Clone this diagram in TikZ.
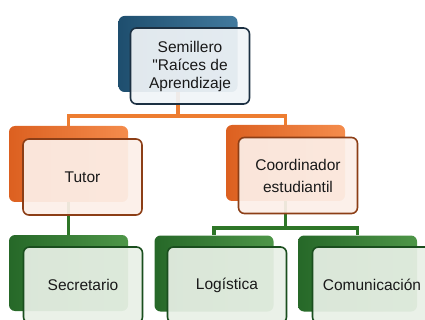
\documentclass[tikz,border=0pt]{standalone}
\usepackage{fontspec}
\setmainfont{Liberation Sans}[Ligatures=TeXOff]
\usetikzlibrary{positioning,calc}
\definecolor{blueback}{RGB}{30,78,110}
\definecolor{bluebackL}{RGB}{66,122,158}
\definecolor{blueedge}{RGB}{28,48,66}
\definecolor{bluefill}{RGB}{240,244,247}
\definecolor{orback}{RGB}{220,96,32}
\definecolor{orbackL}{RGB}{244,140,76}
\definecolor{oredge}{RGB}{140,62,22}
\definecolor{orfill}{RGB}{252,239,232}
\definecolor{grback}{RGB}{38,104,40}
\definecolor{grbackL}{RGB}{78,150,72}
\definecolor{gredge}{RGB}{26,78,30}
\definecolor{grfill}{RGB}{232,240,230}
\definecolor{orline}{RGB}{237,125,49}
\definecolor{grline}{RGB}{46,118,40}
\tikzset{
  box/.style={rectangle, rounded corners=6pt, minimum width=119pt, minimum height=76pt, inner sep=0pt},
  backblue/.style={box, left color=blueback, right color=bluebackL},
  backor/.style={box, left color=orback, right color=orbackL},
  backgr/.style={box, left color=grback, right color=grbackL},
  frontbox/.style={box, line width=1.6pt, fill opacity=0.93, text opacity=1, align=center,
    font=\fontsize{15.5}{18}\selectfont, text=black!90},
  frontblue/.style={frontbox, draw=blueedge, fill=bluefill},
  frontor/.style={frontbox, draw=oredge, fill=orfill},
  frontgr/.style={frontbox, draw=gredge, fill=grfill},
  orconn/.style={draw=orline, line width=3.6pt},
  grconn/.style={draw=grline, line width=3.4pt},
}
\begin{document}
\begin{tikzpicture}[x=1pt,y=-1pt]
\useasboundingbox (0,0) rectangle (425,320);
% back boxes positions
\coordinate (pTop) at (178,54);
\coordinate (pTut) at (68.5,164);
\coordinate (pCoo) at (285.5,163);
\coordinate (pSec) at (68.5,273);
\coordinate (pLog) at (214,273.5);
\coordinate (pCom) at (357.5,273.5);
% invisible anchors for connectors (drawn first, behind boxes)
\node[box] (topB0) at (pTop) {};
\node[box] (tutB0) at (pTut) {};
\node[box] (cooB0) at (pCoo) {};
\node[box] (secB0) at (pSec) {};
\node[box] (logB0) at (pLog) {};
\node[box] (comB0) at (pCom) {};
\draw[orconn] (topB0.south) -- (topB0.south |- 0,116) -| (tutB0.north);
\draw[orconn] (topB0.south |- 0,116) -| (cooB0.north);
\draw[grconn] (tutB0.south) -- (secB0.north);
\draw[grconn] (cooB0.south) -- (cooB0.south |- 0,228) -| (logB0.north);
\draw[grconn] (cooB0.south |- 0,228) -| (comB0.north);
% back boxes
\node[backblue] (topB) at (pTop) {};
\node[backor] (tutB) at (pTut) {};
\node[backor] (cooB) at (pCoo) {};
\node[backgr] (secB) at (pSec) {};
\node[backgr] (logB) at (pLog) {};
\node[backgr] (comB) at (pCom) {};
% front boxes
\node[frontblue] (topF) at ($(topB)+(12,12)$) {Semillero\\"Raíces de\\Aprendizaje};
\node[frontor] (tutF) at ($(tutB)+(14,13)$) {Tutor};
\node[frontor, font=\fontsize{15.5}{22}\selectfont] (cooF) at ($(cooB)+(12.5,12.5)$) {Coordinador\\estudiantil};
\node[frontgr] (secF) at ($(secB)+(14.5,12)$) {\raisebox{-2pt}{Secretario}};
\node[frontgr] (logF) at ($(logB)+(13,11.5)$) {\raisebox{-2pt}{Logística}};
\node[frontgr] (comF) at ($(comB)+(14.5,11.5)$) {\raisebox{-2pt}{Comunicación}};
\end{tikzpicture}
\end{document}
